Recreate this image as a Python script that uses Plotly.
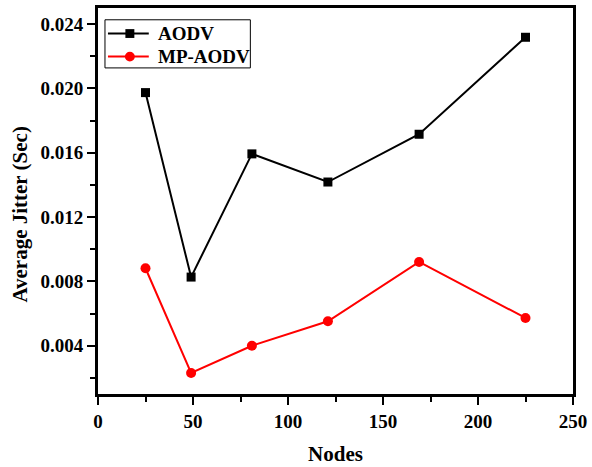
import plotly.graph_objects as go

# Number of nodes in the simulated network
nodes = [25, 49, 81, 121, 169, 225]

# Average jitter (seconds) per protocol
aodv_jitter = [0.01974, 0.00827, 0.01593, 0.01418, 0.01715, 0.02318]
mp_aodv_jitter = [0.00882, 0.00231, 0.00400, 0.00552, 0.00921, 0.00573]

series_names = ["AODV", "MP-AODV"]
series_colors = ["black", "#ff0000"]
series_symbols = ["square", "circle"]

x_ticks = [0, 50, 100, 150, 200, 250]
y_ticks = [0.004, 0.008, 0.012, 0.016, 0.020, 0.024]
y_tick_text = ["0.004", "0.008", "0.012", "0.016", "0.020", "0.024"]

serif = "Liberation Serif, Times New Roman, serif"

W, H = 592, 467
M_L, M_R, M_T, M_B = 98, 17, 5, 69
PW, PH = W - M_L - M_R, H - M_T - M_B


def px_x(px):
    """Pixel column -> paper x."""
    return (px - M_L) / PW


def px_y(py):
    """Pixel row -> paper y."""
    return (H - M_B - py) / PH


fig = go.Figure()
fig.add_trace(go.Scatter(
    x=nodes, y=aodv_jitter, name=series_names[0], mode="lines+markers",
    line=dict(color=series_colors[0], width=2),
    marker=dict(symbol=series_symbols[0], size=9, color=series_colors[0]),
    showlegend=False,
))
fig.add_trace(go.Scatter(
    x=nodes, y=mp_aodv_jitter, name=series_names[1], mode="lines+markers",
    line=dict(color=series_colors[1], width=2),
    marker=dict(symbol=series_symbols[1], size=10, color=series_colors[1]),
    showlegend=False,
))

axis_common = dict(
    showline=True, linecolor="black", linewidth=3, mirror=True,
    showgrid=False, zeroline=False,
    ticks="outside", ticklen=8, tickwidth=2, tickcolor="black",
    tickfont=dict(family=serif, size=19, color="black", weight="bold"),
)

fig.update_xaxes(
    range=[0, 250], tickvals=x_ticks,
    minor=dict(ticks="outside", ticklen=5, tickwidth=2, tickcolor="black", dtick=25, tick0=0),
    title=dict(text="<b>Nodes</b>", font=dict(family=serif, size=21, color="black"), standoff=16),
    **axis_common,
)
fig.update_yaxes(
    range=[0.001, 0.025], tickvals=y_ticks, ticktext=y_tick_text,
    minor=dict(ticks="outside", ticklen=5, tickwidth=2, tickcolor="black", dtick=0.002, tick0=0),
    **axis_common,
)

# Y-axis title placed as an annotation
fig.add_annotation(
    text="<b>Average Jitter (Sec)</b>", textangle=-90,
    xref="paper", yref="paper", x=px_x(20), y=px_y(215),
    xanchor="center", yanchor="middle", showarrow=False,
    font=dict(family=serif, size=21, color="black"),
)

# Legend box drawn with shapes and annotations
shapes = [dict(
    type="rect", xref="paper", yref="paper",
    x0=px_x(105), x1=px_x(251), y0=px_y(66), y1=px_y(17),
    line=dict(color="black", width=1), fillcolor="white", layer="above",
)]
row_y = [31, 54.5]
for name, color, symbol, ry in zip(series_names, series_colors, series_symbols, row_y):
    shapes.append(dict(
        type="line", xref="paper", yref="paper",
        x0=px_x(108), x1=px_x(149), y0=px_y(ry), y1=px_y(ry),
        line=dict(color=color, width=2), layer="above",
    ))
    r = 4.5 if symbol == "square" else 5
    shapes.append(dict(
        type="rect" if symbol == "square" else "circle",
        xref="paper", yref="paper",
        x0=px_x(130 - r), x1=px_x(130 + r), y0=px_y(ry + r), y1=px_y(ry - r),
        line=dict(color=color, width=0), fillcolor=color, layer="above",
    ))
    fig.add_annotation(
        text=f"<b>{name}</b>", xref="paper", yref="paper",
        x=px_x(156), y=px_y(ry), xanchor="left", yanchor="middle",
        showarrow=False, font=dict(family=serif, size=19, color="black"),
    )

fig.update_layout(
    width=W, height=H,
    margin=dict(l=M_L, r=M_R, t=M_T, b=M_B),
    paper_bgcolor="white", plot_bgcolor="white",
    shapes=shapes,
    showlegend=False,
)

fig.write_html("out.html")
